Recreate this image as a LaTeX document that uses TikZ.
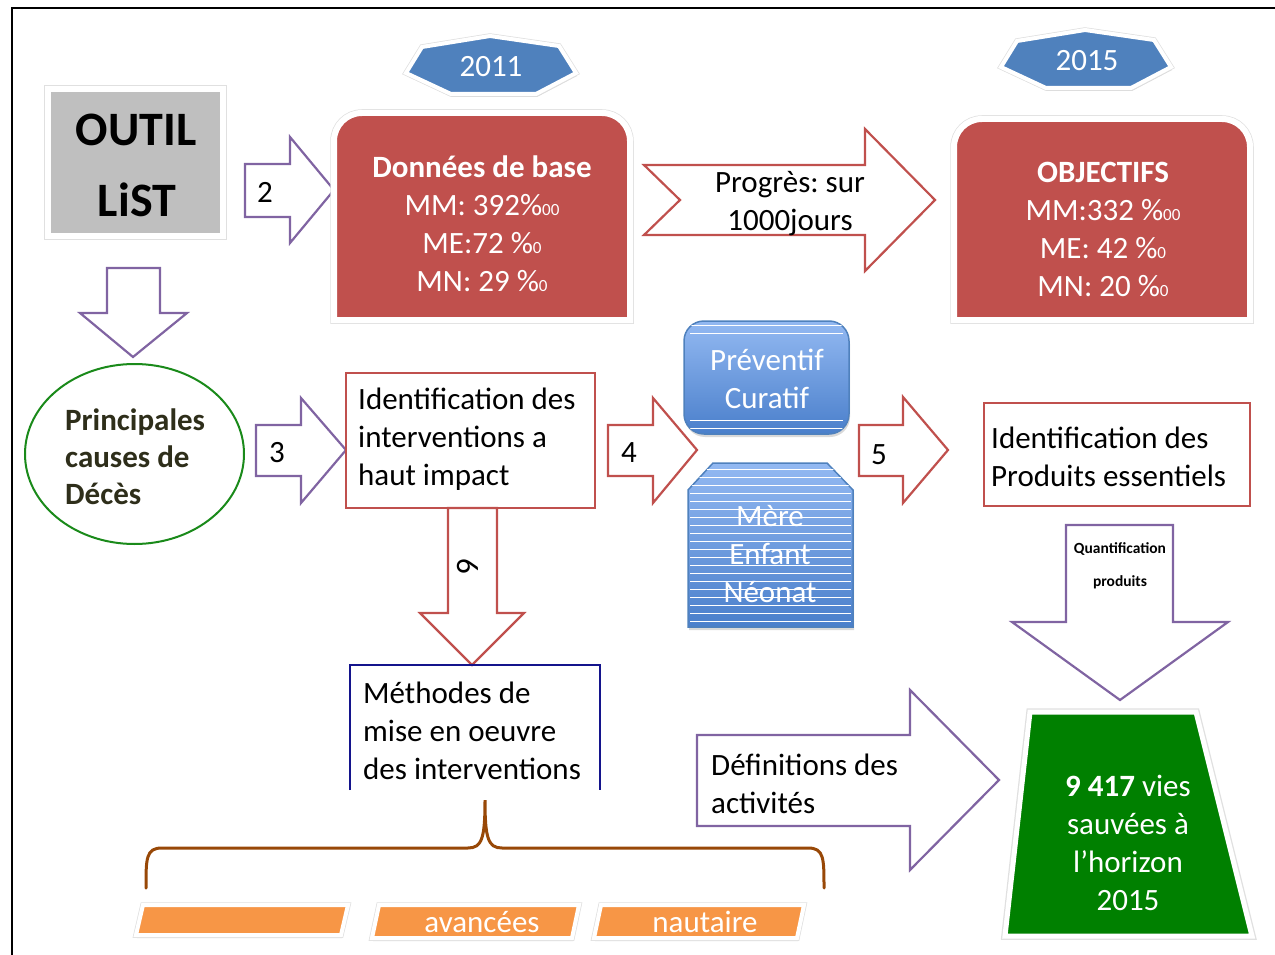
\documentclass[tikz,border=0pt]{standalone}
\usepackage{fontspec}
\setmainfont{Carlito}
\usetikzlibrary{shadows}

\definecolor{boxred}{HTML}{C0504D}
\definecolor{arrowpurple}{HTML}{8064A2}
\definecolor{hexblue}{HTML}{4F81BD}
\definecolor{lightblue}{HTML}{93B9F2}
\definecolor{deepblue}{HTML}{4A7FCB}
\definecolor{tabgray}{HTML}{BFBFBF}
\definecolor{circgreen}{HTML}{1A8A1A}
\definecolor{vivgreen}{HTML}{008000}
\definecolor{navyline}{HTML}{14148C}
\definecolor{bracebrown}{HTML}{984807}
\definecolor{tagorange}{HTML}{F79646}
\definecolor{olivetext}{HTML}{2E2E1A}

\newcommand{\pmille}{\%\scalebox{0.55}{0}}
\newcommand{\pdixmille}{\%\scalebox{0.55}{00}}
\frenchspacing

\begin{document}
\begin{tikzpicture}[x=1pt, y=-1pt, line join=miter]
    \tikzstyle{body} = [inner sep=0pt, align=left, font=\fontsize{31}{38}\selectfont]
    \tikzstyle{wbody} = [body, text=white, align=center]
    \tikzstyle{parrow} = [draw=arrowpurple, line width=2.2pt, fill=white]
    \tikzstyle{rarrow} = [draw=boxred, line width=2.2pt, fill=white]
    \tikzstyle{softshadow} = [drop shadow={shadow xshift=1pt, shadow yshift=-3pt, opacity=0.3}]
    \tikzstyle{rim} = [preaction={draw=black!12, line width=7.5pt}]
    \tikzstyle{redbox} = [fill=boxred, softshadow, rim, draw=white, line width=6pt]
    \tikzstyle{hexbadge} = [fill=hexblue, softshadow, preaction={draw=black!12, line width=5.5pt}, draw=white, line width=4pt]
    \tikzstyle{bluebox} = [top color=lightblue, bottom color=deepblue, draw=hexblue, line width=1.5pt, softshadow]
    \tikzstyle{tag} = [fill=tagorange, softshadow, preaction={draw=black!12, line width=5.5pt}, draw=white, line width=4pt]
    \tikzstyle{stripe} = [white, line width=1pt]

    \useasboundingbox (0,0) rectangle (1275,955);

    % frame
    \draw[line width=1.5pt] (12,955) -- (12,8) -- (1275,8);

    % year badges
    \draw[hexbadge] (406,73) -- (422,47) -- (490,36) -- (559,46) -- (576,73) -- (536,94) -- (451,94) -- cycle;
    \node[wbody] (y2011) at (491,67) {2011};
    \draw[hexbadge] (1001,67) -- (1017,41) -- (1085,30) -- (1154,40) -- (1171,67) -- (1131,88) -- (1046,88) -- cycle;
    \node[wbody] (y2015) at (1087,61) {2015};

    % outil list
    \draw[fill=tabgray, softshadow, rim, draw=white, line width=6pt] (48,89) rectangle (223,236);
    \node[font=\fontsize{48}{52}\selectfont\bfseries, inner sep=0pt] (outil) at (136,130) {OUTIL};
    \node[font=\fontsize{48}{52}\selectfont\bfseries, inner sep=0pt] (list) at (137,200) {LiST};

    % arrow 2
    \draw[parrow] (245,164) -- (290,164) -- (290,137) -- (334,190) -- (290,243) -- (290,217) -- (245,217) -- cycle;
    \node[body] (n2) at (265,192) {2};

    % donnees de base
    \draw[redbox] (334,320) -- (334,141) arc[start angle=180, end angle=270, radius=28] -- (602,113)
        arc[start angle=270, end angle=360, radius=28] -- (630,320) -- cycle;
    \node[wbody] (base) at (482,224) {\textbf{Données de base}\\MM: 392\pdixmille\\ME:72 \pmille\\MN: 29 \pmille};

    % progres
    \draw[rarrow] (644,165) -- (865,165) -- (865,129) -- (935,200) -- (865,271) -- (865,235) -- (644,235) -- (680,200) -- cycle;
    \node[body, align=center] (progres) at (790,204) {Progrès: sur\\1000jours};

    % objectifs
    \draw[redbox] (954,320) -- (954,147) arc[start angle=180, end angle=270, radius=28] -- (1222,119)
        arc[start angle=270, end angle=360, radius=28] -- (1250,320) -- cycle;
    \node[wbody] (obj) at (1103,229) {\textbf{OBJECTIFS}\\MM:332 \pdixmille\\ME: 42 \pmille\\MN: 20 \pmille};

    % arrow down from outil
    \draw[parrow] (107,268) -- (160,268) -- (160,313) -- (187,313) -- (133,357) -- (80,313) -- (107,313) -- cycle;

    % principales causes
    \draw[circgreen, line width=2pt] (134.5,454) ellipse [x radius=109.5, y radius=90];
    \node[body, text=olivetext, font=\fontsize{31}{37}\selectfont\bfseries, anchor=west] (causes) at (65,457) {Principales\\causes de\\Décès};

    % arrow 3
    \draw[parrow] (256,425) -- (301,425) -- (301,398) -- (346,450) -- (301,503) -- (301,476) -- (256,476) -- cycle;
    \node[body] (n3) at (277,453) {3};

    % interventions
    \draw[boxred, line width=2.2pt, fill=white] (346,373) rectangle (595,508);
    \node[body, anchor=west] (interv) at (358,439) {Identification des\\interventions a\\haut impact};

    % arrow 4
    \draw[rarrow] (608,425) -- (653,425) -- (653,398) -- (697,450) -- (653,503) -- (653,476) -- (608,476) -- cycle;
    \node[body] (n4) at (629,453) {4};

    % preventif / curatif
    \draw[bluebox, rounded corners=20pt] (684,321) rectangle (849,434);
    \node[wbody] (prev) at (767,379) {Préventif\\Curatif};
    \begin{scope}
        \clip[rounded corners=20pt] (684,321) rectangle (849,434);
        \foreach \yy in {325,333,420,428}
            \draw[stripe] (690,\yy) -- (843,\yy);
    \end{scope}

    % mere enfant neonat
    \draw[bluebox] (688,490) -- (713,463) -- (827,463) -- (853,490) -- (853,627) -- (688,627) -- cycle;
    \node[wbody] (mere) at (770,554) {Mère\\Enfant\\Néonat};
    \begin{scope}
        \clip (688,490) -- (713,463) -- (827,463) -- (853,490) -- (853,627) -- (688,627) -- cycle;
        \foreach \yy in {469,477,...,624}
            \draw[stripe] (690,\yy) -- (851,\yy);
    \end{scope}

    % arrow 5
    \draw[rarrow] (859,425) -- (903,425) -- (903,397) -- (948,450) -- (903,503) -- (903,476) -- (859,476) -- cycle;
    \node[body] (n5) at (879,455) {5};

    % produits essentiels
    \draw[boxred, line width=2.2pt, fill=white] (984,403) rectangle (1250,506);
    \node[body, anchor=west] (produits) at (991,457) {Identification des\\Produits essentiels};

    % quantification
    \draw[parrow] (1066,525) -- (1173,525) -- (1173,622) -- (1228,622) -- (1120,700) -- (1012,622) -- (1066,622) -- cycle;
    \node[inner sep=0pt, align=center, font=\fontsize{15.5}{33}\selectfont\bfseries] (quant) at (1120,566) {Quantification\\produits};

    % arrow 6
    \draw[rarrow] (448,508) -- (497,508) -- (497,613) -- (524,613) -- (472,665) -- (420,613) -- (448,613) -- cycle;
    \node[body, rotate=-90] (n6) at (468,566) {6};

    % methodes
    \draw[navyline, line width=2pt] (350,790) -- (350,665) -- (600,665) -- (600,790);
    \node[body, anchor=west] (methodes) at (363,731) {Méthodes de\\mise en oeuvre\\des interventions};

    % brace
    \draw[bracebrown, line width=3pt, line cap=round] (146,888) .. controls (146,858) and (146,848) .. (162,848) -- (468,848)
        .. controls (482,848) and (485,838) .. (485,800) .. controls (485,838) and (488,848) .. (502,848) -- (808,848)
        .. controls (824,848) and (824,858) .. (824,888);

    % orange tags
    \draw[tag] (136,935) -- (143,905) -- (348,905) -- (341,935) -- cycle;
    \draw[tag] (372,938) -- (379,905) -- (579,905) -- (572,938) -- cycle;
    \node[wbody] (avancees) at (482,922) {avancées};
    \draw[tag] (594,938) -- (601,905) -- (804,905) -- (797,938) -- cycle;
    \node[wbody] (nautaire) at (705,922) {nautaire};

    % definitions
    \draw[parrow] (697,735) -- (910,735) -- (910,690) -- (999,780) -- (910,870) -- (910,826) -- (697,826) -- cycle;
    \node[body, anchor=west] (defs) at (711,784) {Définitions des\\activités};

    % vies sauvees
    \draw[fill=vivgreen, softshadow, rim, draw=white, line width=5pt] (1030,712) -- (1196,712) -- (1252,936) -- (1005,936) -- cycle;
    \node[wbody] (vies) at (1128,843) {\textbf{9 417} vies\\sauvées à\\l’horizon\\2015};
\end{tikzpicture}
\end{document}
